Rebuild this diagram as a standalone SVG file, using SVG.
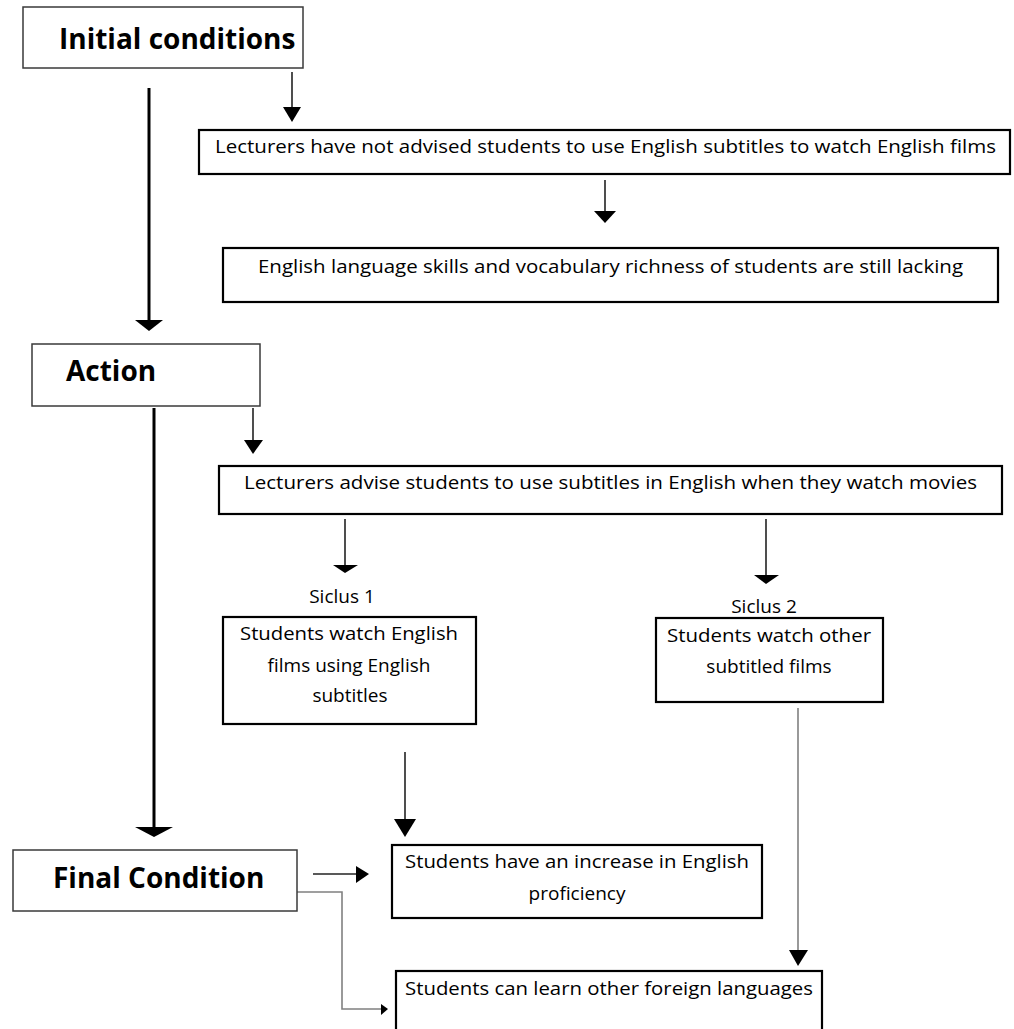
<svg xmlns="http://www.w3.org/2000/svg" width="1014" height="1029" viewBox="0 0 1014 1029">
<style>
.bg{fill:#ffffff}
.hbox{fill:#ffffff;stroke:#3a3a3a;stroke-width:1.5}
.cbox{fill:#ffffff;stroke:#000000;stroke-width:2.2}
.h{font-family:"Open Sans","Noto Sans",sans-serif;font-weight:bold;font-size:28px;fill:#000}
.t{font-family:"Open Sans","Noto Sans",sans-serif;font-size:19px;fill:#000}
.thick{stroke:#000;stroke-width:3;fill:none}
.thin{stroke:#222;stroke-width:1.6;fill:none}
.gray{stroke:#808080;stroke-width:1.6;fill:none}
.head{fill:#000;stroke:none}
</style>
<rect class="bg" x="0" y="0" width="1014" height="1029"/>
<g id="connectors">
  <!-- Initial -> left long to Action -->
  <line class="thick" x1="149" y1="88" x2="149" y2="322"/>
  <polygon class="head" points="135,320 163,320 149,331"/>
  <!-- Initial -> box1 -->
  <line class="thin" x1="292" y1="72" x2="292" y2="109"/>
  <polygon class="head" points="283,107 301,107 292,122"/>
  <!-- box1 -> box2 -->
  <line class="thin" x1="605" y1="180" x2="605" y2="212"/>
  <polygon class="head" points="594,211 616,211 605,223"/>
  <!-- Action -> Final long -->
  <line class="thick" x1="154" y1="408" x2="154" y2="829"/>
  <polygon class="head" points="135,827 173,827 154,837"/>
  <!-- Action -> box3 -->
  <line class="thin" x1="253" y1="408" x2="253" y2="442"/>
  <polygon class="head" points="244,440 263,440 253,454"/>
  <!-- box3 -> Siclus 1 -->
  <line class="thin" x1="345" y1="519" x2="345" y2="566"/>
  <polygon class="head" points="333,565 358,565 345,573"/>
  <!-- box3 -> Siclus 2 -->
  <line class="thin" x1="766" y1="519" x2="766" y2="576"/>
  <polygon class="head" points="754,575 779,575 766,584"/>
  <!-- Siclus1 -> increase -->
  <line class="thin" x1="405" y1="752" x2="405" y2="821"/>
  <polygon class="head" points="394,819 416,819 405,837"/>
  <!-- Siclus2 -> can learn -->
  <line class="gray" x1="798" y1="708" x2="798" y2="952"/>
  <polygon class="head" points="789,950 808,950 798,966"/>
  <!-- Final -> increase -->
  <line class="thin" x1="313" y1="874" x2="358" y2="874"/>
  <polygon class="head" points="356,866 356,883 369,874"/>
  <!-- Final -> can learn (elbow) -->
  <polyline class="gray" points="297,892 342,892 342,1009 383,1009"/>
  <polygon class="head" points="381,1004 381,1015 388,1009"/>
</g>
<g id="n-initial">
  <rect class="hbox" x="23" y="7" width="280" height="61"/>
  <text class="h" x="59" y="49">Initial conditions</text>
</g>
<g id="n-box1">
  <rect class="cbox" x="199" y="130" width="811" height="44"/>
  <text class="t" x="215" y="153" textLength="781" lengthAdjust="spacingAndGlyphs">Lecturers have not advised students to use English subtitles to watch English films</text>
</g>
<g id="n-box2">
  <rect class="cbox" x="223" y="248" width="775" height="54"/>
  <text class="t" x="258" y="273" textLength="705" lengthAdjust="spacingAndGlyphs">English language skills and vocabulary richness of students are still lacking</text>
</g>
<g id="n-action">
  <rect class="hbox" x="32" y="344" width="228" height="62"/>
  <text class="h" x="66" y="381">Action</text>
</g>
<g id="n-box3">
  <rect class="cbox" x="219" y="466" width="783" height="48"/>
  <text class="t" x="244" y="489" textLength="733" lengthAdjust="spacingAndGlyphs">Lecturers advise students to use subtitles in English when they watch movies</text>
</g>
<g id="n-siclus1">
  <text class="t" x="342" y="603" text-anchor="middle">Siclus 1</text>
  <rect class="cbox" x="223" y="617" width="253" height="107"/>
  <text class="t" x="349" y="640" text-anchor="middle" textLength="218" lengthAdjust="spacingAndGlyphs">Students watch English</text>
  <text class="t" x="349" y="672" text-anchor="middle">films using English</text>
  <text class="t" x="350" y="702" text-anchor="middle">subtitles</text>
</g>
<g id="n-siclus2">
  <text class="t" x="764" y="613" text-anchor="middle">Siclus 2</text>
  <rect class="cbox" x="656" y="618" width="227" height="84"/>
  <text class="t" x="769" y="642" text-anchor="middle" textLength="204" lengthAdjust="spacingAndGlyphs">Students watch other</text>
  <text class="t" x="769" y="673" text-anchor="middle">subtitled films</text>
</g>
<g id="n-final">
  <rect class="hbox" x="13" y="850" width="284" height="61"/>
  <text class="h" x="53" y="888">Final Condition</text>
</g>
<g id="n-increase">
  <rect class="cbox" x="392" y="845" width="370" height="73"/>
  <text class="t" x="405" y="868" textLength="344" lengthAdjust="spacingAndGlyphs">Students have an increase in English</text>
  <text class="t" x="577" y="900" text-anchor="middle">proficiency</text>
</g>
<g id="n-learn">
  <rect class="cbox" x="396" y="971" width="426" height="70"/>
  <text class="t" x="405" y="995" textLength="408" lengthAdjust="spacingAndGlyphs">Students can learn other foreign languages</text>
</g>
</svg>
